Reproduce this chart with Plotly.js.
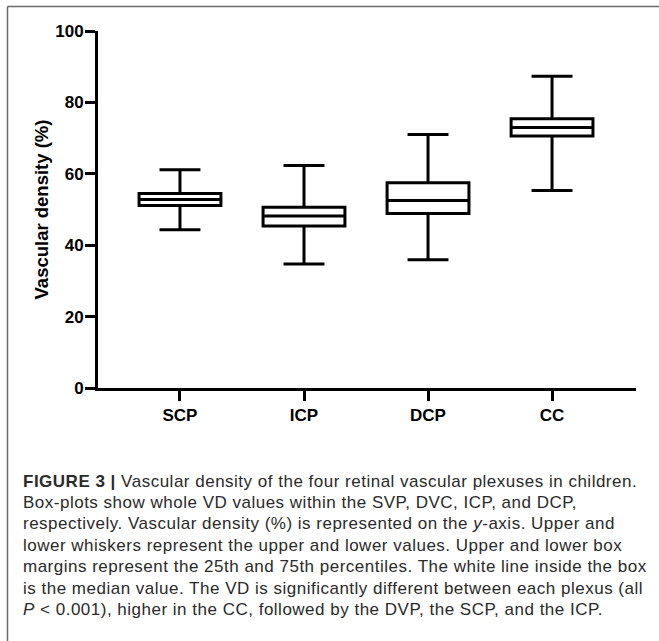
<!DOCTYPE html>
<html>
<head>
<meta charset="utf-8">
<script src="https://cdn.plot.ly/plotly-3.0.1.min.js"></script>
<style>
  html, body { margin: 0; padding: 0; background: #fff; }
  #chart { width: 659px; height: 641px; }
  #chart .annotation-text { letter-spacing: 0.5px; }
</style>
</head>
<body>
<div id="chart"></div>
<script>
// ---- data ----
const categories = ['SCP', 'ICP', 'DCP', 'CC'];
const upperWhisker = [61.1, 62.3, 71.0, 87.3];
const q3Values = [54.5, 50.6, 57.5, 75.4];
const medianValues = [52.8, 48.2, 52.5, 73.0];
const q1Values = [51.1, 45.4, 48.9, 70.6];
const lowerWhisker = [44.3, 34.7, 35.9, 55.3];
const yTickValues = [0, 20, 40, 60, 80, 100];
const yAxisTitle = 'Vascular density (%)';
const captionLines = [
  '<b>FIGURE 3 |</b> Vascular density of the four retinal vascular plexuses in children.',
  'Box-plots show whole VD values within the SVP, DVC, ICP, and DCP,',
  'respectively. Vascular density (%) is represented on the <i>y</i>-axis. Upper and',
  'lower whiskers represent the upper and lower values. Upper and lower box',
  'margins represent the 25th and 75th percentiles. The white line inside the box',
  'is the median value. The VD is significantly different between each plexus (all',
  '<i>P</i> &lt; 0.001), higher in the CC, followed by the DVP, the SCP, and the ICP.'
];

// ---- layout geometry (pixels) ----
const W = 659, H = 641;
const plotL = 98, plotR = 636, plotT = 31, plotB = 388;
const pw = plotR - plotL, ph = plotB - plotT;
const px2x = p => (p - plotL) / pw;
const py2y = p => (plotB - p) / ph;

const trace = {
  type: 'box',
  x: categories,
  q1: q1Values,
  median: medianValues,
  q3: q3Values,
  lowerfence: lowerWhisker,
  upperfence: upperWhisker,
  boxpoints: false,
  width: 0.66,
  whiskerwidth: 0.5,
  fillcolor: '#ffffff',
  line: { color: '#000000', width: 3 },
  hoverinfo: 'skip'
};

const annotations = captionLines.map((t, i) => ({
  text: t,
  xref: 'paper', yref: 'paper',
  x: px2x(21), y: py2y(481 + i * 21.4),
  xanchor: 'left', yanchor: 'middle',
  showarrow: false,
  align: 'left',
  font: { family: 'Liberation Sans, Arial, sans-serif', size: 17, color: '#2a2a2a' }
}));

const layout = {
  width: W, height: H,
  margin: { l: plotL, r: W - plotR, t: plotT, b: H - plotB, pad: 0 },
  paper_bgcolor: '#ffffff',
  plot_bgcolor: '#ffffff',
  showlegend: false,
  font: { family: 'Liberation Sans, Arial, sans-serif', color: '#000' },
  xaxis: {
    type: 'category',
    range: [-0.661, 3.677],
    showline: true, linewidth: 3, linecolor: '#000',
    ticks: 'outside', ticklen: 10, tickwidth: 3, tickcolor: '#000',
    showgrid: false, zeroline: false,
    tickfont: { size: 17, weight: 'bold', color: '#000' }
  },
  yaxis: {
    range: [0, 100],
    tickvals: yTickValues,
    showline: true, linewidth: 3, linecolor: '#000',
    ticks: 'outside', ticklen: 10, tickwidth: 3, tickcolor: '#000',
    ticklabelstandoff: -2,
    showgrid: false, zeroline: false,
    tickfont: { size: 17, weight: 'bold', color: '#000' },
    title: { text: yAxisTitle, font: { size: 18.5, weight: 'bold', color: '#000' }, standoff: 2 }
  },
  annotations: annotations,
  shapes: [
    { type: 'line', xref: 'paper', yref: 'paper', x0: px2x(7.5), x1: px2x(W), y0: py2y(6.5), y1: py2y(6.5),
      line: { color: '#6a6a6a', width: 1.5 } },
    { type: 'line', xref: 'paper', yref: 'paper', x0: px2x(7.5), x1: px2x(7.5), y0: py2y(6.5), y1: py2y(H),
      line: { color: '#6a6a6a', width: 1.5 } }
  ]
};

Plotly.newPlot('chart', [trace], layout, { displayModeBar: false, staticPlot: true });
</script>
</body>
</html>
